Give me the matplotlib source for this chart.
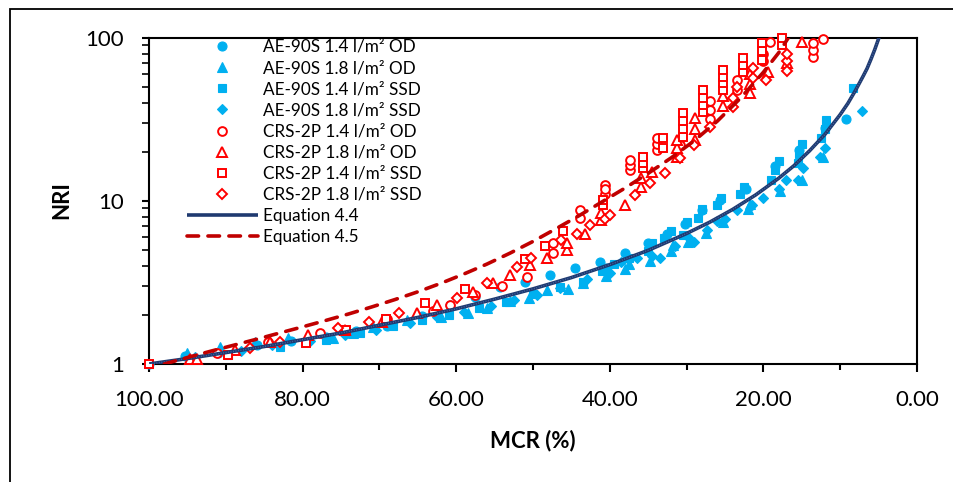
import matplotlib
matplotlib.use("Agg")
import matplotlib.pyplot as plt
from matplotlib.patches import Rectangle
from matplotlib.ticker import FixedLocator, NullFormatter

plt.rcParams['font.family'] = ['Lato', 'DejaVu Sans']

# ---- measured data: MCR (%) and NRI per binder / rate / condition ----
ae14od_mcr = [100, 95.3, 91.0, 86.0, 81.5, 77.0, 73.0, 69.0, 64.5, 60.8, 57.6, 54.3, 51.0, 47.8,
              44.5, 41.3, 40.5, 38.0, 35.0, 32.5, 30.2, 28.0, 25.6, 22.3, 18.5, 15.3, 12.0, 9.2]
ae14od_nri = [1.0, 1.12, 1.16, 1.30, 1.38, 1.47, 1.60, 1.72, 1.98, 2.30, 2.58, 2.95, 3.20, 3.52,
              3.87, 4.24, 3.9, 4.8, 5.5, 6.3, 7.2, 8.8, 10.2, 11.8, 16.5, 20.5, 28, 32]

ae18od_mcr = [95.0, 90.8, 86.2, 81.9, 76.0, 73.4, 70.8, 66.4, 62.0, 58.5, 56.0, 53.0, 50.5, 48.2, 45.5,
              43.5, 40.5, 38.0, 37.5, 34.8, 32.0, 31.8, 29.8, 27.5, 25.2, 22.0, 21.7, 17.8, 15.0, 12.3]
ae18od_nri = [1.16, 1.28, 1.37, 1.44, 1.45, 1.54, 1.69, 1.86, 1.95, 2.05, 2.2, 2.45, 2.55, 2.84, 2.9,
              3.15, 3.45, 3.8, 4.1, 4.3, 4.9, 5.4, 5.6, 6.4, 7.4, 8.9, 9.6, 11.5, 13.5, 18.5]

ae14ssd_mcr = [100, 89.7, 82.9, 76.9, 72.5, 68.2, 64.5, 61.0, 57.0, 53.5, 50.0, 46.5, 43.5, 41.0, 39.5,
               37.5, 35.0, 34.5, 33.0, 32.0, 30.5, 30.0, 28.5, 28.0, 26.0, 25.5, 23.0, 22.5, 19.0, 18.5,
               18.0, 15.5, 15.3, 15.0, 12.5, 12.0, 11.8, 8.3]
ae14ssd_nri = [1.0, 1.14, 1.28, 1.40, 1.55, 1.72, 1.85, 2.0, 2.2, 2.4, 2.7, 2.95, 3.2, 3.7, 4.1,
               4.5, 4.9, 5.5, 5.9, 6.5, 6.2, 7.4, 7.9, 8.9, 9.5, 10.5, 11.0, 12.2, 13.5, 15.5,
               17.5, 17.0, 19.5, 22.5, 24.5, 27.5, 31.5, 49]

ae18ssd_mcr = [94.0, 88.0, 84.0, 79.0, 74.5, 70.5, 66.0, 62.5, 59.0, 55.5, 52.5, 49.5, 46.5, 43.0, 40.0,
               38.5, 36.5, 34.5, 33.5, 31.5, 29.8, 29.0, 27.3, 26.0, 25.0, 23.5, 21.5, 20.0, 18.0, 17.0,
               15.5, 14.8, 12.6, 12.0, 7.2]
ae18ssd_nri = [1.1, 1.2, 1.3, 1.38, 1.5, 1.62, 1.78, 1.93, 2.08, 2.28, 2.48, 2.65, 2.92, 3.3, 3.6,
               4.2, 4.5, 4.6, 4.5, 5.3, 6.0, 5.6, 6.6, 7.5, 7.8, 8.8, 9.5, 10.5, 11.8, 13.5,
               13.5, 16.0, 18.5, 21.0, 35.5]

crs14od_mcr = [91.2, 84.5, 77.7, 69.0, 63.0, 60.8, 57.6, 54.0, 50.8, 47.4, 47.4, 43.9, 43.9, 40.6, 40.6,
               40.6, 37.4, 37.4, 37.4, 33.9, 33.9, 33.9, 30.8, 27.0, 27.0, 27.0, 23.4, 23.4, 20.0, 20.0,
               19.1, 13.5, 13.5, 13.5, 12.2]
crs14od_nri = [1.16, 1.37, 1.54, 1.88, 2.1, 2.3, 2.65, 3.0, 3.4, 4.8, 5.5, 7.9, 8.8, 11.1, 12.5,
               11.8, 15.5, 16.7, 17.9, 20.5, 22.3, 24.3, 22.0, 32, 36, 41, 48, 55, 72, 80,
               95, 77, 85, 93, 98]

crs18od_mcr = [94.7, 93.8, 88.8, 84.2, 79.3, 74.5, 69.7, 65.1, 62.5, 57.8, 55.2, 53.0, 50.4, 48.2, 45.6,
               45.6, 43.2, 41.1, 41.1, 38.0, 36.0, 36.0, 34.5, 31.3, 31.3, 31.3, 28.9, 28.9, 28.9, 25.3,
               25.3, 21.7, 21.7, 21.7, 19.4, 16.9, 15.0]
crs18od_nri = [1.08, 1.08, 1.22, 1.37, 1.51, 1.62, 1.82, 2.05, 2.3, 2.78, 3.12, 3.5, 4.05, 4.45, 5.0,
               5.5, 6.3, 7.6, 8.4, 9.5, 12.2, 13.8, 15.0, 18.6, 21.0, 23.7, 23.7, 27.5, 32.2, 38,
               44, 46, 52, 60, 62, 70, 95]

crs14ssd_mcr = [100, 89.7, 79.5, 74.3, 69.1, 64.0, 58.9, 51.0, 48.4, 46.1, 40.9, 40.9, 35.7, 35.7, 35.7,
                33.1, 33.1, 30.5, 30.5, 30.5, 30.5, 27.9, 27.9, 27.9, 27.9, 25.3, 25.3, 25.3, 25.3, 22.7,
                22.7, 22.7, 20.2, 20.2, 20.2, 17.6, 17.6]
crs14ssd_nri = [1.0, 1.14, 1.34, 1.62, 1.9, 2.36, 2.9, 4.4, 5.3, 6.5, 9.45, 10.2, 15.9, 17.2, 18.6,
                21.0, 24.3, 24.6, 27.5, 31.0, 34.7, 35.0, 39.0, 43.0, 47.8, 47.8, 53, 58, 63.5, 62,
                68, 75, 73, 83, 93, 90, 100]

crs18ssd_mcr = [86.8, 82.9, 75.4, 71.4, 67.5, 59.9, 56.0, 52.1, 50.2, 46.3, 44.3, 42.6, 40.6, 40.0, 36.7,
                34.8, 32.8, 30.9, 29.0, 27.0, 24.0, 24.0, 23.4, 21.4, 21.4, 19.6, 16.9, 16.9, 16.9]
crs18ssd_nri = [1.25, 1.37, 1.66, 1.82, 2.05, 2.53, 3.15, 3.95, 4.45, 5.77, 6.3, 7.1, 7.8, 8.2, 10.9,
                12.9, 14.8, 18.3, 22, 28.5, 37.9, 43, 50, 57, 65, 55, 63, 72, 80]

# ---- model curves ----
eq44_mcr = [100, 95, 90, 85, 80, 75, 70, 65, 60, 55, 50, 45, 40, 35, 30, 27, 24, 21, 18, 16, 14,
            12, 10, 9, 8, 7, 6.5, 6, 5.5, 5.0, 4.8]
eq44_nri = [1.0, 1.08, 1.175, 1.28, 1.41, 1.55, 1.73, 1.93, 2.18, 2.50, 2.89, 3.39, 4.07, 4.98, 6.32,
            7.41, 8.88, 10.9, 13.8, 16.5, 20.3, 25.6, 33.9, 39.7, 47.8, 58.5, 65, 74, 85, 99, 105]

eq45_mcr = [98, 95, 92, 89, 86, 83, 80, 77, 74, 71, 68, 65, 62, 59, 56, 53, 50, 47, 44, 41, 38, 35,
            32, 29, 26, 23, 20, 18, 16.5]
eq45_nri = [1.00, 1.096, 1.197, 1.303, 1.419, 1.549, 1.690, 1.849, 2.028, 2.239, 2.483, 2.773, 3.126,
            3.565, 4.102, 4.786, 5.649, 6.761, 8.128, 9.886, 12.02, 14.79, 18.41, 23.44, 30.90, 42.66,
            61.66, 81.28, 104.7]

x_ticks = [100, 80, 60, 40, 20, 0]
y_ticks = [1, 10, 100]

BLUE = '#00B0F0'
RED = '#FF0000'
NAVY = '#1F3A70'
DARKRED = '#C00000'

fig = plt.figure(figsize=(9.54, 4.82), dpi=100)
ax = fig.add_axes([149 / 954, 1 - 364 / 482, (917 - 149) / 954, (364 - 38) / 482])

filled = [
    (ae14od_mcr, ae14od_nri, 'o', 6.5, 'AE-90S 1.4 l/m² OD'),
    (ae18od_mcr, ae18od_nri, '^', 7.0, 'AE-90S 1.8 l/m² OD'),
    (ae14ssd_mcr, ae14ssd_nri, 's', 6.2, 'AE-90S 1.4 l/m² SSD'),
    (ae18ssd_mcr, ae18ssd_nri, 'D', 5.3, 'AE-90S 1.8 l/m² SSD'),
]
hollow = [
    (crs14od_mcr, crs14od_nri, 'o', 6.3, 'CRS-2P 1.4 l/m² OD'),
    (crs18od_mcr, crs18od_nri, '^', 6.8, 'CRS-2P 1.8 l/m² OD'),
    (crs14ssd_mcr, crs14ssd_nri, 's', 6.0, 'CRS-2P 1.4 l/m² SSD'),
    (crs18ssd_mcr, crs18ssd_nri, 'D', 5.0, 'CRS-2P 1.8 l/m² SSD'),
]

for xs, ys, m, ms, lab in filled:
    ax.plot(xs, ys, linestyle='none', marker=m, markersize=ms, color=BLUE,
            markeredgecolor=BLUE, markeredgewidth=0.8, label=lab, clip_on=False)
for xs, ys, m, ms, lab in hollow:
    ax.plot(xs, ys, linestyle='none', marker=m, markersize=ms, markerfacecolor='white',
            markeredgecolor=RED, markeredgewidth=1.4, label=lab, clip_on=False)

ax.plot(eq44_mcr, eq44_nri, color=NAVY, linewidth=2.6, label='Equation 4.4', solid_capstyle='butt')
ax.plot(eq44_mcr, eq44_nri, color='#4A6AA8', linewidth=1.0, linestyle=(0, (0.6, 1.2)))
ax.plot(eq45_mcr, eq45_nri, color=DARKRED, linewidth=2.6, linestyle=(0, (3.2, 2.6)),
        dash_capstyle='round', label='Equation 4.5')

ax.set_xlim(100, 0)
ax.set_yscale('log')
ax.set_ylim(1, 100)

ax.xaxis.set_major_locator(FixedLocator(x_ticks))
ax.xaxis.set_minor_locator(FixedLocator([90, 70, 50, 30, 10]))
ax.set_xticklabels([f'{v:.2f}' for v in x_ticks])
ax.yaxis.set_major_locator(FixedLocator(y_ticks))
ax.set_yticklabels([str(v) for v in y_ticks])
ax.yaxis.set_minor_formatter(NullFormatter())

for s in ax.spines.values():
    s.set_linewidth(1.5)
    s.set_color('black')
    s.set_zorder(1.5)
ax.tick_params(axis='x', which='major', direction='out', length=6, width=1.5, pad=13,
               labelsize=16, colors='black')
ax.tick_params(axis='x', which='minor', direction='out', length=4.5, width=1.5)
ax.tick_params(axis='y', which='major', direction='out', length=5, width=1.5, pad=13,
               labelsize=16, colors='black')
ax.tick_params(axis='y', which='minor', direction='out', length=5, width=1.2)

fig.text(533 / 954, 1 - 441 / 482, 'MCR (%)', ha='center', va='center',
         fontsize=16, fontweight='bold')
fig.text(62 / 954, 1 - 200 / 482, 'NRI', ha='center', va='center', rotation=90,
         fontsize=16, fontweight='bold')

handles, labels = ax.get_legend_handles_labels()
leg = fig.legend(handles, labels, loc='upper left',
                 bbox_to_anchor=(187 / 954, 1 - 39 / 482), bbox_transform=fig.transFigure,
                 frameon=False, fontsize=12.3, numpoints=1, handlelength=4.15,
                 handletextpad=0.3, labelspacing=0.3, borderpad=0, borderaxespad=0)

# outer chart frame
fig.patches.append(Rectangle((10.5 / 954, -0.1), 1.2, (482 - 8.5) / 482 + 0.1,
                             transform=fig.transFigure, fill=False, edgecolor='black',
                             linewidth=1.3, figure=fig))

fig.savefig('out.png', dpi=100)
